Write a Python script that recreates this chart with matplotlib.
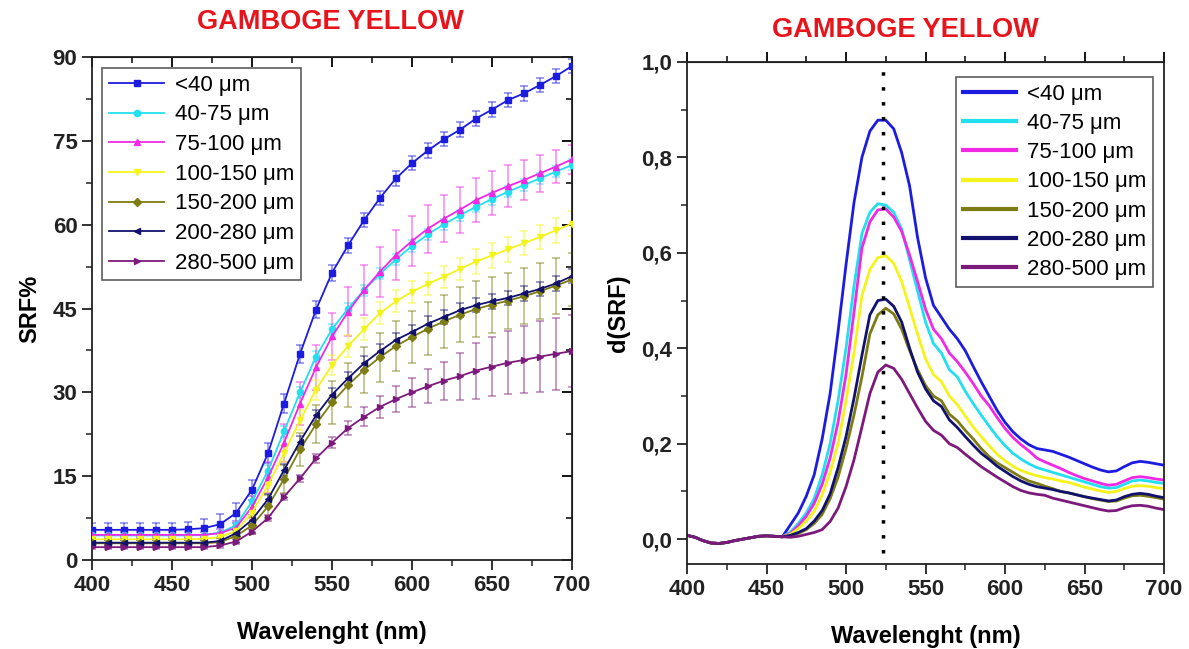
import numpy as np
import matplotlib.pyplot as plt
from matplotlib.ticker import MultipleLocator, FuncFormatter

plt.rcParams['font.family'] = ['Liberation Sans', 'DejaVu Sans']

labels = ['<40 μm', '40-75 μm', '75-100 μm', '100-150 μm',
          '150-200 μm', '200-280 μm', '280-500 μm']
colors = ['#1c1ce0', '#22dff0', '#f02ae4', '#f4f41c',
          '#7c7c12', '#12126e', '#7c1a7c']
markers = ['s', 'o', '^', 'v', 'D', '<', '>']

# ---- left: SRF% every 10 nm ----
wl = np.arange(400, 701, 10)
srf = [
    [5.4, 5.4, 5.4, 5.4, 5.4, 5.4, 5.5, 5.7, 6.4, 8.4, 12.6, 19.1, 28.0, 36.9, 44.8, 51.4,
     56.3, 60.8, 64.8, 68.3, 71.0, 73.3, 75.3, 77.0, 79.0, 80.6, 82.3, 83.5, 85.0, 86.6, 88.4],
    [4.4, 4.4, 4.4, 4.4, 4.4, 4.4, 4.4, 4.5, 4.9, 6.2, 10.5, 16.0, 23.0, 30.0, 36.4, 41.3,
     45.0, 48.3, 51.2, 53.8, 56.2, 58.3, 60.1, 61.7, 63.2, 64.6, 65.9, 67.1, 68.3, 69.5, 70.7],
    [4.5, 4.5, 4.5, 4.5, 4.5, 4.5, 4.5, 4.5, 4.8, 5.8, 9.5, 14.8, 21.0, 28.0, 34.5, 40.0,
     44.4, 48.3, 51.6, 54.6, 57.1, 59.3, 61.1, 62.7, 64.4, 65.7, 66.9, 68.0, 69.2, 70.4, 71.7],
    [3.7, 3.7, 3.7, 3.7, 3.7, 3.7, 3.7, 3.8, 4.1, 5.2, 8.5, 13.4, 19.1, 25.0, 30.5, 34.9,
     38.3, 41.3, 44.2, 46.3, 48.0, 49.4, 50.7, 52.1, 53.4, 54.5, 55.6, 56.7, 57.8, 59.0, 60.2],
    [3.0, 3.0, 3.0, 3.0, 3.0, 3.0, 3.0, 3.0, 3.2, 4.3, 6.2, 9.6, 14.5, 19.8, 24.3, 28.2,
     31.3, 34.0, 36.3, 38.3, 39.9, 41.4, 42.7, 43.9, 44.9, 45.7, 46.4, 47.2, 48.1, 49.1, 50.2],
    [3.1, 3.1, 3.1, 3.1, 3.1, 3.1, 3.1, 3.1, 3.4, 4.8, 7.2, 10.9, 16.1, 21.2, 25.9, 29.6,
     32.5, 35.2, 37.4, 39.4, 40.8, 42.3, 43.5, 44.7, 45.6, 46.3, 46.9, 47.7, 48.5, 49.5, 50.8],
    [2.3, 2.3, 2.3, 2.3, 2.3, 2.3, 2.3, 2.3, 2.6, 3.3, 5.1, 7.5, 11.3, 14.6, 18.2, 21.0,
     23.6, 25.6, 27.4, 28.8, 30.0, 31.1, 32.1, 32.9, 33.9, 34.6, 35.3, 35.8, 36.4, 36.9, 37.4],
]
srf_err = [
    [1.2, 1.2, 1.2, 1.2, 1.2, 1.2, 1.3, 1.6, 1.8, 1.8, 1.8, 1.8, 1.7, 1.6, 1.5, 1.4,
     1.3, 1.3, 1.3, 1.3, 1.3, 1.3, 1.3, 1.3, 1.3, 1.3, 1.3, 1.3, 1.3, 1.3, 1.3],
    [0.6, 0.6, 0.6, 0.6, 0.6, 0.6, 0.6, 0.6, 0.7, 0.8, 1.0, 1.0, 1.0, 1.0, 1.0, 1.0,
     1.0, 1.0, 1.0, 1.0, 1.0, 1.0, 1.0, 1.0, 1.0, 1.0, 1.0, 1.0, 1.0, 1.0, 1.0],
    [0.6, 0.6, 0.6, 0.6, 0.6, 0.6, 0.6, 0.6, 0.8, 1.2, 2.0, 2.8, 3.4, 3.8, 4.0, 4.2,
     4.4, 4.5, 4.5, 4.5, 4.4, 4.3, 4.2, 4.1, 4.0, 3.9, 3.7, 3.5, 3.3, 3.0, 2.6],
    [0.6, 0.6, 0.6, 0.6, 0.6, 0.6, 0.6, 0.6, 0.7, 0.8, 1.0, 1.3, 1.5, 1.8, 1.8, 1.8,
     2.0, 2.0, 2.0, 2.0, 2.0, 2.0, 2.0, 2.0, 2.2, 2.2, 2.2, 2.2, 2.2, 2.2, 2.2],
    [0.5, 0.5, 0.5, 0.5, 0.5, 0.5, 0.5, 0.5, 0.7, 1.0, 1.5, 2.0, 2.5, 3.0, 3.4, 3.8,
     4.0, 4.2, 4.4, 4.5, 4.6, 4.7, 4.8, 4.9, 5.0, 5.0, 5.0, 5.0, 5.0, 5.0, 4.8],
    [0.5, 0.5, 0.5, 0.5, 0.5, 0.5, 0.5, 0.5, 0.6, 0.7, 0.8, 0.9, 1.0, 1.0, 1.0, 1.1,
     1.2, 1.3, 1.3, 1.3, 1.3, 1.3, 1.3, 1.3, 1.3, 1.3, 1.3, 1.3, 1.3, 1.3, 1.3],
    [0.4, 0.4, 0.4, 0.4, 0.4, 0.4, 0.4, 0.4, 0.4, 0.5, 0.5, 0.6, 0.6, 0.7, 0.8, 1.0,
     1.3, 1.7, 2.0, 2.3, 2.6, 3.0, 3.4, 4.2, 5.0, 5.3, 5.6, 6.0, 6.3, 6.4, 6.4],
]

# ---- right: derivative d(SRF) every 5 nm ----
wl_d = np.arange(400, 701, 5)
base = [0.008, 0.004, -0.003, -0.008, -0.009, -0.007, -0.003, 0.0, 0.003, 0.006, 0.007, 0.006, 0.005]
dsrf = [
    base + [0.03, 0.055, 0.09, 0.135, 0.21, 0.305, 0.435, 0.575, 0.705, 0.80, 0.855, 0.878,
            0.878, 0.86, 0.81, 0.74, 0.632, 0.548, 0.49, 0.465, 0.44, 0.42, 0.395, 0.362,
            0.33, 0.30, 0.27, 0.245, 0.225, 0.21, 0.198, 0.19, 0.187, 0.184, 0.178, 0.172,
            0.165, 0.158, 0.151, 0.145, 0.141, 0.143, 0.152, 0.16, 0.163, 0.161, 0.158, 0.155],
    base + [0.015, 0.033, 0.055, 0.085, 0.135, 0.2, 0.29, 0.40, 0.53, 0.64, 0.685, 0.703,
            0.70, 0.685, 0.65, 0.585, 0.52, 0.455, 0.41, 0.39, 0.355, 0.34, 0.31, 0.284,
            0.26, 0.237, 0.215, 0.196, 0.18, 0.168, 0.158, 0.15, 0.145, 0.14, 0.135, 0.13,
            0.125, 0.12, 0.115, 0.11, 0.107, 0.108, 0.115, 0.122, 0.124, 0.122, 0.119, 0.117],
    base + [0.012, 0.028, 0.048, 0.075, 0.115, 0.17, 0.245, 0.345, 0.475, 0.61, 0.665, 0.69,
            0.692, 0.675, 0.645, 0.595, 0.54, 0.482, 0.44, 0.42, 0.39, 0.372, 0.35, 0.326,
            0.30, 0.28, 0.255, 0.232, 0.213, 0.198, 0.185, 0.17, 0.162, 0.155, 0.148, 0.14,
            0.133, 0.127, 0.122, 0.117, 0.113, 0.115, 0.122, 0.129, 0.131, 0.129, 0.126, 0.124],
    base + [0.01, 0.022, 0.038, 0.058, 0.093, 0.14, 0.2, 0.29, 0.39, 0.51, 0.565, 0.59,
            0.594, 0.578, 0.54, 0.485, 0.43, 0.378, 0.345, 0.33, 0.30, 0.282, 0.258, 0.235,
            0.215, 0.196, 0.178, 0.164, 0.153, 0.144, 0.138, 0.133, 0.129, 0.126, 0.122, 0.119,
            0.114, 0.109, 0.105, 0.101, 0.098, 0.10, 0.106, 0.111, 0.112, 0.111, 0.108, 0.106],
    base + [0.007, 0.012, 0.02, 0.033, 0.052, 0.085, 0.13, 0.19, 0.26, 0.34, 0.43, 0.47,
            0.484, 0.472, 0.44, 0.395, 0.355, 0.322, 0.30, 0.29, 0.262, 0.248, 0.228, 0.21,
            0.19, 0.173, 0.16, 0.15, 0.14, 0.13, 0.122, 0.117, 0.111, 0.106, 0.10, 0.097,
            0.093, 0.089, 0.085, 0.082, 0.079, 0.08, 0.086, 0.091, 0.092, 0.09, 0.087, 0.084],
    base + [0.008, 0.014, 0.022, 0.038, 0.06, 0.095, 0.15, 0.215, 0.295, 0.385, 0.47, 0.50,
            0.503, 0.488, 0.455, 0.40, 0.35, 0.315, 0.29, 0.278, 0.25, 0.234, 0.215, 0.197,
            0.18, 0.167, 0.153, 0.142, 0.131, 0.122, 0.115, 0.11, 0.107, 0.104, 0.10, 0.097,
            0.093, 0.089, 0.086, 0.083, 0.08, 0.082, 0.089, 0.094, 0.096, 0.094, 0.09, 0.087],
    base + [0.004, 0.006, 0.01, 0.014, 0.02, 0.037, 0.065, 0.11, 0.166, 0.235, 0.305, 0.35,
            0.365, 0.358, 0.335, 0.305, 0.275, 0.247, 0.228, 0.218, 0.20, 0.192, 0.178, 0.165,
            0.152, 0.141, 0.13, 0.12, 0.11, 0.102, 0.097, 0.094, 0.092, 0.086, 0.082, 0.078,
            0.074, 0.07, 0.066, 0.062, 0.059, 0.06, 0.066, 0.07, 0.071, 0.069, 0.065, 0.062],
]
peak_wl = 523

title = 'GAMBOGE YELLOW'
title_color = '#e8141c'

fig = plt.figure(figsize=(11.89, 6.49), dpi=100)
ax1 = fig.add_axes([0.0774, 0.1371, 0.4037, 0.775])
ax2 = fig.add_axes([0.5778, 0.131, 0.4012, 0.7735])

for i in range(7):
    ax1.errorbar(wl, srf[i], yerr=srf_err[i], fmt='none', ecolor=colors[i],
                 elinewidth=1.1, capsize=3, capthick=1.1, alpha=0.55, zorder=2)
for i in range(7):
    ax1.plot(wl, srf[i], color=colors[i], marker=markers[i], markersize=4.5,
             lw=1.3, label=labels[i], zorder=3)

for i in range(7):
    ax2.plot(wl_d, dsrf[i], color=colors[i], lw=2.0, label=labels[i])
ax2.vlines(peak_wl, -0.03, 1.0, colors='k', linestyles=(0, (1, 3.3)), lw=2.5)

ax1.set_xlim(400, 700)
ax1.set_ylim(0, 90)
ax1.xaxis.set_major_locator(MultipleLocator(50))
ax1.xaxis.set_minor_locator(MultipleLocator(25))
ax1.yaxis.set_major_locator(MultipleLocator(15))
ax1.yaxis.set_minor_locator(MultipleLocator(7.5))

ax2.set_xlim(400, 700)
ax2.set_ylim(-0.052, 1.0)
ax2.xaxis.set_major_locator(MultipleLocator(50))
ax2.xaxis.set_minor_locator(MultipleLocator(25))
ax2.yaxis.set_major_locator(MultipleLocator(0.2))
ax2.yaxis.set_minor_locator(MultipleLocator(0.1))
ax2.yaxis.set_major_formatter(FuncFormatter(lambda v, p: f'{v:.1f}'.replace('.', ',')))

for ax in (ax1, ax2):
    for s in ax.spines.values():
        s.set_linewidth(1.3)
        s.set_color('#222222')
    ax.tick_params(which='major', direction='out', length=7, width=1.3,
                   labelsize=16, colors='#222222')
    ax.tick_params(which='minor', direction='out', length=4, width=1.1, colors='#222222')
    for t in ax.get_xticklabels() + ax.get_yticklabels():
        t.set_fontweight('bold')
    ax.set_xlabel('Wavelenght (nm)', fontsize=17, fontweight='bold', labelpad=18)

# mirrored ticks
top1 = ax1.secondary_xaxis('top')
top1.xaxis.set_major_locator(MultipleLocator(50))
top1.xaxis.set_minor_locator(MultipleLocator(25))
top1.tick_params(which='major', direction='in', length=7, width=1.3, labeltop=False)
top1.tick_params(which='minor', direction='in', length=4, width=1.1)
right1 = ax1.secondary_yaxis('right')
right1.yaxis.set_major_locator(MultipleLocator(15))
right1.yaxis.set_minor_locator(MultipleLocator(7.5))
right1.tick_params(which='major', direction='in', length=7, width=1.3, labelright=False)
right1.tick_params(which='minor', direction='in', length=4, width=1.1)

top2 = ax2.secondary_xaxis('top')
top2.xaxis.set_major_locator(MultipleLocator(50))
top2.xaxis.set_minor_locator(MultipleLocator(25))
top2.tick_params(which='major', direction='out', length=7, width=1.3, labeltop=False)
top2.tick_params(which='minor', direction='out', length=4, width=1.1)

ax1.set_ylabel('SRF%', fontsize=17, fontweight='bold', labelpad=8)
ax2.set_ylabel('d(SRF)', fontsize=17, fontweight='bold', labelpad=8)

leg1 = ax1.legend(loc='upper left', bbox_to_anchor=(0.021, 0.978), borderaxespad=0,
                  fontsize=16, frameon=True, fancybox=False, edgecolor='#333333',
                  handlelength=2.5, labelspacing=0.39, borderpad=0.3, handletextpad=0.5)
leg1.get_frame().set_linewidth(1.2)
leg2 = ax2.legend(loc='upper right', bbox_to_anchor=(0.977, 0.970), borderaxespad=0,
                  fontsize=16, frameon=True, fancybox=False, edgecolor='#333333',
                  handlelength=2.4, labelspacing=0.37, borderpad=0.3, handletextpad=0.5)
leg2.get_frame().set_linewidth(1.2)
for ln in leg2.get_lines():
    ln.set_linewidth(3)

fig.text(330 / 1189, 1 - 22 / 649, title, color=title_color, fontsize=19.5,
         fontweight='bold', ha='center', va='center')
fig.text(905 / 1189, 1 - 30 / 649, title, color=title_color, fontsize=19.5,
         fontweight='bold', ha='center', va='center')

fig.savefig('out.png', dpi=100)
